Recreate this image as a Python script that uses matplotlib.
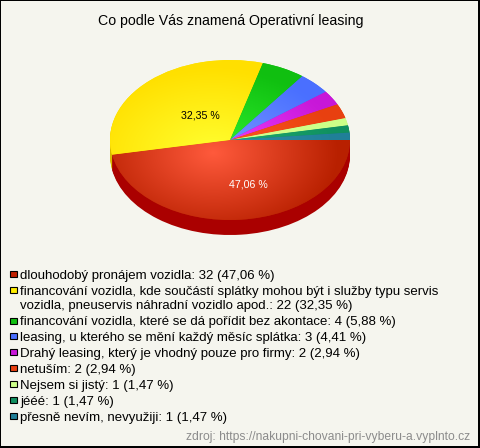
import matplotlib
matplotlib.use("Agg")
import matplotlib.pyplot as plt
from matplotlib.patches import Rectangle
import numpy as np

plt.rcParams['font.family'] = ['Liberation Sans', 'DejaVu Sans']

title = "Co podle Vás znamená Operativní leasing"
source = "zdroj: https://nakupni-chovani-pri-vyberu-a.vyplnto.cz"
counts = [32, 22, 4, 3, 2, 2, 1, 1, 1]
labels = ["dlouhodobý pronájem vozidla: 32 (47,06 %)",
          "financování vozidla, kde součástí splátky mohou být i služby typu servis\nvozidla, pneuservis náhradní vozidlo apod.: 22 (32,35 %)",
          "financování vozidla, které se dá pořídit bez akontace: 4 (5,88 %)",
          "leasing, u kterého se mění každý měsíc splátka: 3 (4,41 %)",
          "Drahý leasing, který je vhodný pouze pro firmy: 2 (2,94 %)",
          "netuším: 2 (2,94 %)",
          "Nejsem si jistý: 1 (1,47 %)",
          "jééé: 1 (1,47 %)",
          "přesně nevím, nevyužiji: 1 (1,47 %)"]
legend_colors = ['#c02000', '#ffee00', '#10c010', '#4a70ff', '#c818d8',
                 '#e84010', '#ccff88', '#109060', '#207f98']
center_colors = ['#ff5a3c', '#ffff30', '#30f030', '#7898ff', '#f040ff',
                 '#ff5a20', '#d8ff90', '#20b070', '#3090a8']
edge_colors = ['#b82000', '#ffe000', '#10c010', '#4a70ff', '#c818d8',
               '#e84010', '#ccff88', '#109060', '#207f98']
side_colors = ['#aa0000', '#d8b800', '#0c900c', '#3050c0', '#9010a0',
               '#b03008', '#a0cc60', '#0c7048', '#186070']
bg = '#f5f5ee'

W, H = 480, 448
fig = plt.figure(figsize=(W / 100, H / 100), dpi=100, facecolor=bg)

# pie sits in its own axes, squashed to an ellipse
cx, cy, rx, ry, depth = 230, 140, 120, 80, 15
ax = fig.add_axes([(cx - rx) / W, 1 - (cy + ry + depth) / H, 2 * rx / W, (2 * ry + depth) / H])
low = -1 - depth / ry

# side of the pie, stacked copies from the bottom up
for k in range(depth, 0, -1):
    ax.pie(counts, colors=side_colors, startangle=0, counterclock=False,
           radius=1, center=(0, -k / ry), wedgeprops={'linewidth': 0})

wedges, _ = ax.pie(counts, colors=edge_colors, startangle=0, counterclock=False,
                   radius=1, center=(0, 0), wedgeprops={'linewidth': 0})

# radial shading of the top, highlight a bit off centre
gx, gy = np.meshgrid(np.linspace(-1, 1, 480), np.linspace(1, -1, 320))
dist = np.clip(np.hypot(gx + 0.14, (gy + 0.16)) / 1.05, 0, 1)[..., None]
for w, c0, c1 in zip(wedges, center_colors, edge_colors):
    rgb0 = np.array(matplotlib.colors.to_rgb(c0))
    rgb1 = np.array(matplotlib.colors.to_rgb(c1))
    img = ax.imshow(rgb0 + (rgb1 - rgb0) * dist, extent=(-1, 1, -1, 1), zorder=3,
                    interpolation='bilinear')
    img.set_clip_path(w)

ax.set_aspect('auto')
ax.set_xlim(-1, 1)
ax.set_ylim(low, 1)
ax.axis('off')

ax.text(0.15, -0.56, "47,06 %", color='white', fontsize=7.7,
        ha='center', va='center', zorder=5)
ax.text(-0.25, 0.30, "32,35 %", color='black', fontsize=7.7,
        ha='center', va='center', zorder=5)

# overlay in pixel coordinates for title, legend and frame
ov = fig.add_axes([0, 0, 1, 1], facecolor='none')
ov.set_xlim(0, W)
ov.set_ylim(H, 0)
ov.axis('off')

ov.text(231, 21, title, fontsize=10.2, ha='center', va='center')

row_y = [274, 290, 321, 336, 352, 368, 384, 400, 416]
for y, lab, col in zip(row_y, labels, legend_colors):
    ov.add_patch(Rectangle((10, y - 3), 6.5, 6.5, facecolor=col, edgecolor='black', linewidth=0.8))
    if '\n' in lab:
        ov.text(20, y - 4, lab, fontsize=9.5, va='top', ha='left', linespacing=1.2)
    else:
        ov.text(20, y + 1.5, lab, fontsize=9.5, va='center', ha='left')

ov.text(470, 437, source, fontsize=8.7, color='#8c8c8c', ha='right', va='center')

# frame is heavier on the right and bottom
ov.add_patch(Rectangle((0, 0), W, 1, color='black', linewidth=0))
ov.add_patch(Rectangle((0, 0), 1, H, color='black', linewidth=0))
ov.add_patch(Rectangle((W - 2, 0), 2, H, color='black', linewidth=0))
ov.add_patch(Rectangle((0, H - 2), W, 2, color='black', linewidth=0))

fig.savefig("out.png", dpi=100, facecolor=bg)
